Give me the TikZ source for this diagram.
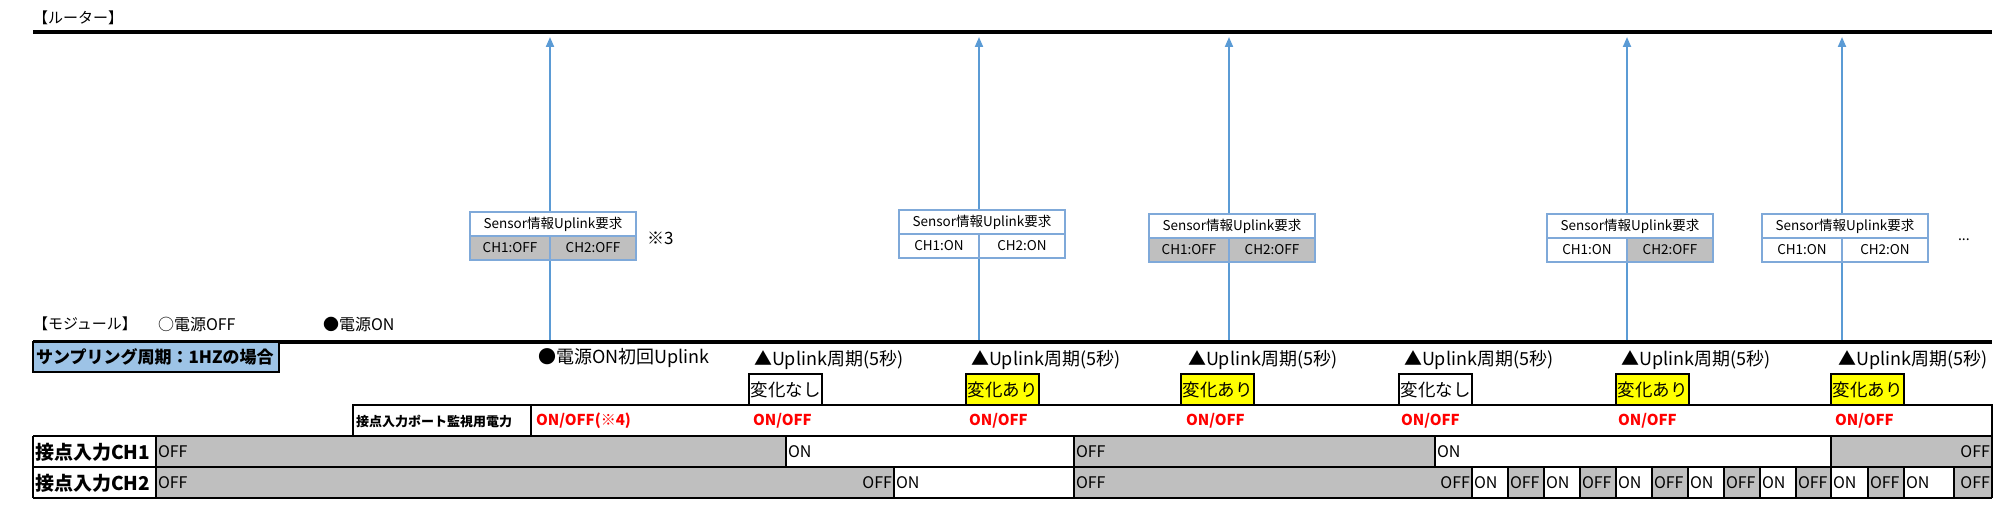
\documentclass[tikz,border=0pt]{standalone}
\usepackage{fontspec}
\setmainfont{Noto Sans CJK JP}
\usetikzlibrary{arrows.meta}
\definecolor{cellgray}{HTML}{BFBFBF}
\definecolor{hdrblue}{HTML}{9DC3E6}
\definecolor{arrblue}{HTML}{5B9BD5}
\definecolor{sbborder}{HTML}{7FA9D9}
\definecolor{hlyellow}{HTML}{FFFF00}
\definecolor{txtred}{HTML}{FF0000}
\newcommand\fs[1]{\fontsize{#1}{#1}\selectfont}
\tikzset{
  every node/.style={inner sep=0pt, outer sep=0pt},
  txt/.style={anchor=west, font=\fs{18}},
  rtxt/.style={anchor=east, font=\fs{16}},
  celltxt/.style={anchor=west, font=\fs{16}},
  heavy/.style={line width=3.5pt, black},
  tline/.style={line width=2pt, black},
  uparrow/.style={line width=2pt, arrblue, -{Triangle[length=10pt, width=8pt]}},
  sbcell/.style={draw=sbborder, line width=1.5pt, fill=white, font=\fs{13.5}, anchor=north west, minimum height=24pt},
  chg/.style={draw, line width=2pt, anchor=north west, minimum width=73pt, minimum height=31pt, font=\fs{17.5}},
  onoff/.style={anchor=west, font=\bfseries\fs{15}, text=txtred},
}
\newcommand\senbox[7]{%
  \node[sbcell, minimum width=166pt] (#1t) at ({#2-80},{#3}) {Sensor情報Uplink要求};
  \node[sbcell, fill=#4, minimum width=80pt] (#1a) at ({#2-80},{#3+24}) {#5};
  \node[sbcell, fill=#6, minimum width=86pt] (#1b) at ({#2},{#3+24}) {#7};
}
\begin{document}
\begin{tikzpicture}[x=1pt, y=-1pt]
\useasboundingbox (0,0) rectangle (2015,524);
% router
\node[txt, font=\fs{15}] (router) at (33,18) {【ルーター】};
\coordinate (rl) at (33,32);
\coordinate (rr) at (1992,32);
\draw[heavy] (rl) -- (rr);
% module line
\coordinate (ml) at (33,342);
\coordinate (mr) at (1992,342);
\draw[heavy] (ml) -- (mr);
% arrows
\foreach \i/\x in {1/550, 2/979, 3/1229, 4/1627, 5/1842} {
  \coordinate (a\i b) at (\x,340);
  \coordinate (a\i t) at (\x,37);
  \draw[uparrow] (a\i b) -- (a\i t);
}
% sensor boxes
\senbox{s1}{550}{212}{cellgray}{CH1:OFF}{cellgray}{CH2:OFF}
\senbox{s2}{979}{210}{white}{CH1:ON}{white}{CH2:ON}
\senbox{s3}{1229}{214}{cellgray}{CH1:OFF}{cellgray}{CH2:OFF}
\senbox{s4}{1627}{214}{white}{CH1:ON}{cellgray}{CH2:OFF}
\senbox{s5}{1842}{214}{white}{CH1:ON}{white}{CH2:ON}
\node[txt, font=\fs{17}] (note3) at (647,238) {※3};
\node[txt, font=\fs{14}] (dots) at (1958,240) {...};
% module legend
\node[txt, font=\fs{15}] (modlbl) at (33,324) {【モジュール】};
\node[txt, font=\fs{16}] (poff) at (158,324) {○電源OFF};
\node[txt, font=\fs{16}] (pon) at (323,324) {●電源ON};
% header box
\node[draw, line width=2.5pt, fill=hdrblue, minimum width=246pt, minimum height=30pt, anchor=north west] (hdr) at (33,342) {};
\node[txt, font=\bfseries\fs{17}] (hdrtxt) at (36,357) {サンプリング周期：1HZの場合};
% uplink labels
\node[txt] (l0) at (538,358) {●電源ON初回Uplink};
\foreach \i/\x in {1/754, 2/971, 3/1188, 4/1404, 5/1621, 6/1838} {
  \node[txt] (l\i) at (\x,360) {▲Uplink周期(5秒)};
}
% change boxes
\foreach \i/\x/\f/\t in {1/749/white/変化なし, 2/966/hlyellow/変化あり, 3/1181/hlyellow/変化あり, 4/1399/white/変化なし, 5/1616/hlyellow/変化あり, 6/1831/hlyellow/変化あり} {
  \node[chg, fill=\f] (c\i) at (\x,374) {\t};
}
% CH row fills
\fill[cellgray] (156,436) rectangle (786,467);
\fill[cellgray] (1074,436) rectangle (1435,467);
\fill[cellgray] (1831,436) rectangle (1992,467);
\fill[cellgray] (156,467) rectangle (894,498);
\fill[cellgray] (1074,467) rectangle (1472,498);
\foreach \a/\b in {1508/1544, 1580/1616, 1652/1688, 1724/1760, 1796/1831, 1868/1904, 1954/1992} {
  \fill[cellgray] (\a,467) rectangle (\b,498);
}
% power row
\draw[tline] (353,436) -- (353,405) -- (1992,405) -- (1992,498);
\draw[tline] (531,405) -- (531,436);
\node[txt, font=\bfseries\fs{13}] (pwr) at (356,421) {接点入力ポート監視用電力};
\node[onoff] (o0) at (536,421) {ON/OFF(※4)};
\foreach \i/\x in {1/753, 2/969, 3/1186, 4/1401, 5/1618, 6/1835} {
  \node[onoff] (o\i) at (\x,421) {ON/OFF};
}
% CH table lines
\draw[tline] (33,436) -- (1992,436);
\draw[tline] (33,467) -- (1992,467);
\draw[tline] (33,498) -- (1992,498);
\draw[tline] (33,436) -- (33,498);
\foreach \x in {156, 786, 1074, 1435, 1831} {
  \draw[tline] (\x,436) -- (\x,467);
}
\foreach \x in {156, 894, 1074, 1472, 1508, 1544, 1580, 1616, 1652, 1688, 1724, 1760, 1796, 1831, 1868, 1904, 1954} {
  \draw[tline] (\x,467) -- (\x,498);
}
% row labels
\node[txt, font=\bfseries\fs{19}] (ch1lbl) at (35,452) {接点入力CH1};
\node[txt, font=\bfseries\fs{19}] (ch2lbl) at (35,483) {接点入力CH2};
% CH1 texts
\node[celltxt] (r1a) at (158,452) {OFF};
\node[celltxt] (r1b) at (788,452) {ON};
\node[celltxt] (r1c) at (1076,452) {OFF};
\node[celltxt] (r1d) at (1437,452) {ON};
\node[rtxt] (r1e) at (1990,452) {OFF};
% CH2 texts
\node[celltxt] (r2a) at (158,483) {OFF};
\node[rtxt] (r2b) at (892,483) {OFF};
\node[celltxt] (r2c) at (896,483) {ON};
\node[celltxt] (r2d) at (1076,483) {OFF};
\node[rtxt] (r2e) at (1470,483) {OFF};
\foreach \i/\x/\t in {1/1474/ON, 2/1510/OFF, 3/1546/ON, 4/1582/OFF, 5/1618/ON, 6/1654/OFF, 7/1690/ON, 8/1726/OFF, 9/1762/ON, 10/1798/OFF, 11/1833/ON, 12/1870/OFF, 13/1906/ON} {
  \node[celltxt] (q\i) at (\x,483) {\t};
}
\node[rtxt] (q14) at (1990,483) {OFF};
\end{tikzpicture}
\end{document}
